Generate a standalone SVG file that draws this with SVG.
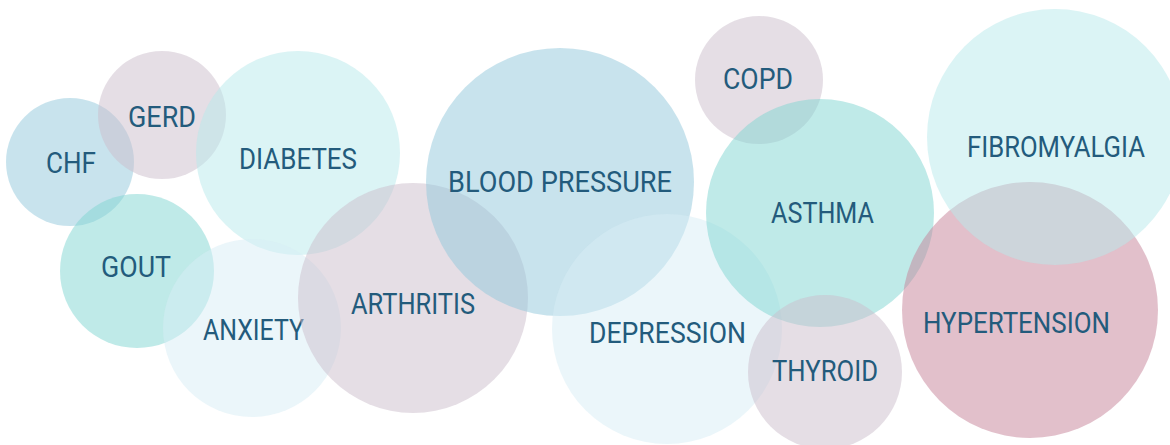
<svg xmlns="http://www.w3.org/2000/svg" width="1170" height="445" viewBox="0 0 1170 445">
<style>
circle{fill-opacity:0.5}
.blue{fill:#91c7db}
.mauve{fill:#cbbdcb}
.cyan{fill:#b7e9eb}
.teal{fill:#7fd5d1}
.pale{fill:#d7edf5}
.pink{fill:#c58197}
text{font-family:Roboto,"Liberation Sans",sans-serif;font-size:29px;fill:#235b7c}
</style>
<rect width="1170" height="445" fill="#ffffff"/>
<g id="chf"><circle class="blue" cx="70" cy="162" r="64"/><text x="46" y="173" textLength="50" lengthAdjust="spacingAndGlyphs">CHF</text></g>
<g id="gerd"><circle class="mauve" cx="162" cy="115" r="64"/><text x="128" y="127" textLength="68" lengthAdjust="spacingAndGlyphs">GERD</text></g>
<g id="diabetes"><circle class="cyan" cx="298" cy="153" r="102"/><text x="239" y="169" textLength="118" lengthAdjust="spacingAndGlyphs">DIABETES</text></g>
<g id="gout"><circle class="teal" cx="137" cy="271" r="77"/><text x="101" y="277" textLength="70" lengthAdjust="spacingAndGlyphs">GOUT</text></g>
<g id="anxiety"><circle class="pale" cx="252" cy="328" r="89"/><text x="203" y="340" textLength="101" lengthAdjust="spacingAndGlyphs">ANXIETY</text></g>
<g id="arthritis"><circle class="mauve" cx="413" cy="298" r="115"/><text x="351" y="314" textLength="124" lengthAdjust="spacingAndGlyphs">ARTHRITIS</text></g>
<g id="blood-pressure"><circle class="blue" cx="560" cy="182" r="134"/><text x="448" y="192" textLength="224" lengthAdjust="spacingAndGlyphs">BLOOD PRESSURE</text></g>
<g id="copd"><circle class="mauve" cx="759" cy="80" r="64"/><text x="723" y="89" textLength="70" lengthAdjust="spacingAndGlyphs">COPD</text></g>
<g id="depression"><circle class="pale" cx="667" cy="329" r="115"/><text x="589" y="343" textLength="157" lengthAdjust="spacingAndGlyphs">DEPRESSION</text></g>
<g id="asthma"><circle class="teal" cx="820" cy="213" r="114"/><text x="771" y="223" textLength="103" lengthAdjust="spacingAndGlyphs">ASTHMA</text></g>
<g id="thyroid"><circle class="mauve" cx="825" cy="372" r="77"/><text x="772" y="381" textLength="106" lengthAdjust="spacingAndGlyphs">THYROID</text></g>
<g id="hypertension"><circle class="pink" cx="1030" cy="310" r="128"/><text x="923" y="333" textLength="187" lengthAdjust="spacingAndGlyphs">HYPERTENSION</text></g>
<g id="fibromyalgia"><circle class="cyan" cx="1055" cy="137" r="128"/><text x="967" y="157" textLength="178" lengthAdjust="spacingAndGlyphs">FIBROMYALGIA</text></g>
<g id="connectors"></g>
</svg>
